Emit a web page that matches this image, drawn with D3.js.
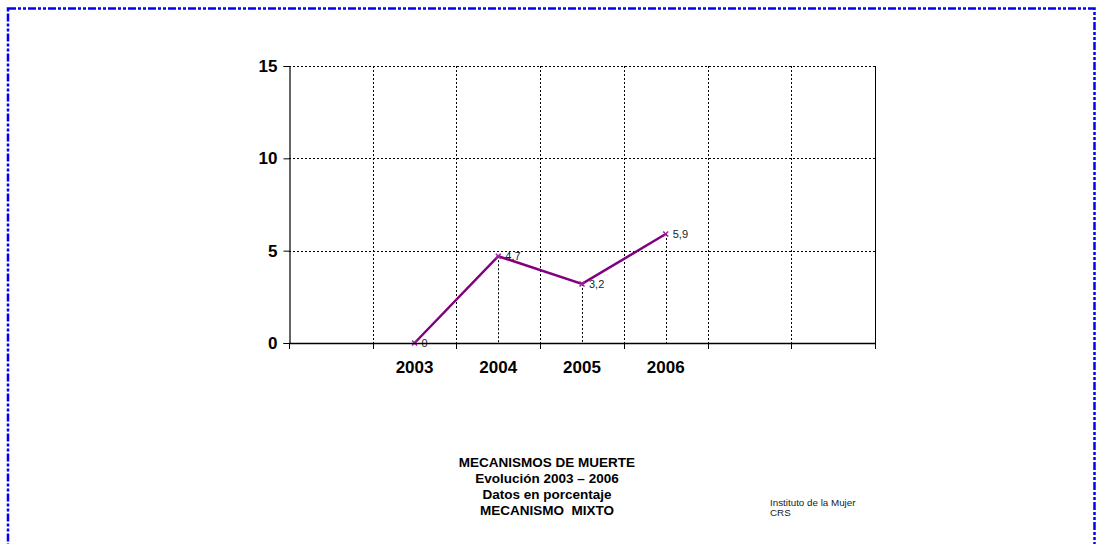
<!DOCTYPE html>
<html>
<head>
<meta charset="utf-8">
<script src="https://cdn.jsdelivr.net/npm/d3@7"></script>
<style>
  body { margin: 0; background: #fff; }
  svg text { font-family: "Liberation Sans", Arial, sans-serif; white-space: pre; }
</style>
</head>
<body>
<div id="chart"></div>
<script>
// slots on the x axis (empty ones are blank columns in the original)
let categories = ["", "2003", "2004", "2005", "2006", "", ""]
let years = ["2003", "2004", "2005", "2006"]
let values = [0, 4.7, 3.2, 5.9]
let valueLabels = ["0", "4,7", "3,2", "5,9"]
let yTicks = [0, 5, 10, 15]
let titleLines = ["MECANISMOS DE MUERTE", "Evolución 2003 – 2006", "Datos en porcentaje", "MECANISMO  MIXTO"]
let sourceLines = ["Instituto de la Mujer", "CRS"]

let width = 1096, height = 544
let plot = {left: 289, right: 875, top: 66, bottom: 343}

let svg = d3.select('#chart').append('svg')
    .attr('width', width)
    .attr('height', height)

// dash-dot-dot frame
svg.append('rect')
    .attr('x', 8).attr('y', 8.5)
    .attr('width', 1086.5).attr('height', 560)
    .attr('fill', 'none')
    .attr('stroke', '#0000ff')
    .attr('stroke-width', 2.5)
    .attr('stroke-dasharray', '8,2,3,2,3,2')

let x = d3.scaleBand()
    .domain(d3.range(categories.length))
    .range([plot.left, plot.right])

let y = d3.scaleLinear()
    .domain([0, 15])
    .range([plot.bottom, plot.top])

let g = svg.append('g')

// horizontal grid
g.selectAll('.hgrid')
  .data(yTicks.filter(d => d > 0))
  .enter().append('line')
    .attr('x1', plot.left).attr('x2', plot.right)
    .attr('y1', d => Math.round(y(d)) + 0.5).attr('y2', d => Math.round(y(d)) + 0.5)
    .attr('stroke', '#000')
    .attr('stroke-dasharray', '2,2')

// vertical grid at band boundaries
let bounds = d3.range(1, categories.length).map(i => x(i))
g.selectAll('.vgrid')
  .data(bounds)
  .enter().append('line')
    .attr('x1', d => Math.round(d) + 0.5).attr('x2', d => Math.round(d) + 0.5)
    .attr('y1', plot.top).attr('y2', plot.bottom)
    .attr('stroke', '#000')
    .attr('stroke-dasharray', '2,2')

// right border
g.append('line')
    .attr('x1', plot.right + 0.5).attr('x2', plot.right + 0.5)
    .attr('y1', plot.top).attr('y2', plot.bottom)
    .attr('stroke', '#000')

// y axis
let yAxis = d3.axisLeft(y).tickValues(yTicks).tickSize(6).tickPadding(6)
let ya = svg.append('g')
    .attr('transform', `translate(${plot.left + 0.5},0)`)
    .call(yAxis)
ya.select('.domain').attr('stroke', '#000').attr('stroke-width', 1.2)
ya.selectAll('text')
    .style('font-size', '17px').style('font-weight', 'bold').attr('fill', '#000')

// x axis
let xg = svg.append('g')
xg.append('line')
    .attr('x1', plot.left).attr('x2', plot.right + 1)
    .attr('y1', plot.bottom + 0.5).attr('y2', plot.bottom + 0.5)
    .attr('stroke', '#000').attr('stroke-width', 1.5)
xg.selectAll('.xtick')
  .data(d3.range(0, categories.length + 1).map(i => i < categories.length ? x(i) : plot.right))
  .enter().append('line')
    .attr('x1', d => Math.round(d) + 0.5).attr('x2', d => Math.round(d) + 0.5)
    .attr('y1', plot.bottom).attr('y2', plot.bottom + 6)
    .attr('stroke', '#000')
xg.selectAll('.xlabel')
  .data(categories)
  .enter().append('text')
    .attr('x', (d, i) => x(i) + x.bandwidth() / 2)
    .attr('y', plot.bottom + 30)
    .attr('text-anchor', 'middle')
    .style('font-size', '17px').style('font-weight', 'bold')
    .text(d => d)

// points
let pts = years.map((yr, i) => ({cat: categories.indexOf(yr), v: values[i], label: valueLabels[i]}))
let px = d => x(d.cat) + x.bandwidth() / 2

// drop lines
g.selectAll('.drop')
  .data(pts.filter(d => d.v > 0))
  .enter().append('line')
    .attr('x1', d => Math.round(px(d)) + 0.5).attr('x2', d => Math.round(px(d)) + 0.5)
    .attr('y1', d => y(d.v)).attr('y2', plot.bottom)
    .attr('stroke', '#000')
    .attr('stroke-dasharray', '2,2')

let line = d3.line().x(px).y(d => y(d.v))
g.append('path')
    .datum(pts)
    .attr('d', line)
    .attr('fill', 'none')
    .attr('stroke', '#800080')
    .attr('stroke-width', 2.5)

// x markers
g.selectAll('.mark')
  .data(pts)
  .enter().append('path')
    .attr('d', d => {
      let cx = px(d), cy = y(d.v), r = 2.5
      return `M${cx - r},${cy - r}L${cx + r},${cy + r}M${cx - r},${cy + r}L${cx + r},${cy - r}`
    })
    .attr('stroke', '#a020a0')
    .attr('stroke-width', 1.5)

g.selectAll('.vlabel')
  .data(pts)
  .enter().append('text')
    .attr('x', d => px(d) + 7)
    .attr('y', d => y(d.v) + 4)
    .style('font-size', '11px')
    .attr('fill', '#222')
    .text(d => d.label)

// title block
svg.append('g').selectAll('text')
  .data(titleLines)
  .enter().append('text')
    .attr('x', 547)
    .attr('y', (d, i) => 467 + i * 16)
    .attr('text-anchor', 'middle')
    .style('font-size', '13.5px').style('font-weight', 'bold')
    .text(d => d)

svg.append('g').selectAll('text')
  .data(sourceLines)
  .enter().append('text')
    .attr('x', 770)
    .attr('y', (d, i) => 506 + i * 10)
    .style('font-size', '9.8px')
    .attr('fill', '#222')
    .text(d => d)
</script>
</body>
</html>
